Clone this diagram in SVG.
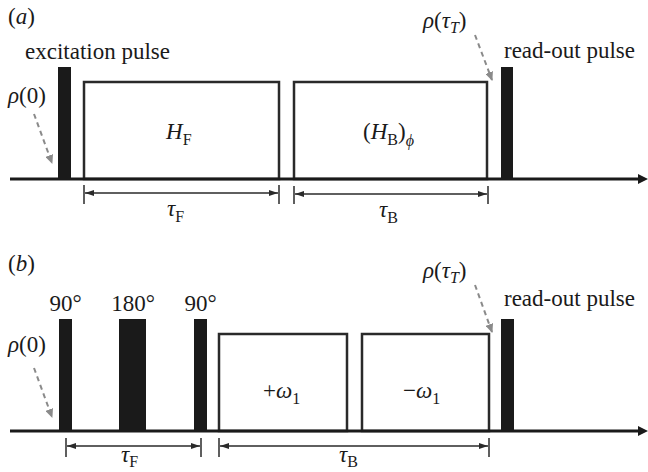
<svg xmlns="http://www.w3.org/2000/svg" width="648" height="472" viewBox="0 0 648 472">
<defs>
<marker id="axisArrow" markerWidth="10" markerHeight="10" refX="0" refY="5" orient="auto" markerUnits="userSpaceOnUse">
<path d="M0,0 L10,5 L0,10 Z" fill="#1a1a1a"/>
</marker>
<marker id="dimEnd" markerWidth="9" markerHeight="6" refX="9" refY="3" orient="auto" markerUnits="userSpaceOnUse">
<path d="M0,0 L9,3 L0,6 Z" fill="#2a2a2a"/>
</marker>
<marker id="dimStart" markerWidth="9" markerHeight="6" refX="0" refY="3" orient="auto" markerUnits="userSpaceOnUse">
<path d="M9,0 L0,3 L9,6 Z" fill="#2a2a2a"/>
</marker>
<marker id="dashArrow" markerWidth="9" markerHeight="8" refX="8" refY="4" orient="auto" markerUnits="userSpaceOnUse">
<path d="M0,0 L9,4 L0,8 Z" fill="#8a8a8a"/>
</marker>
</defs>
<style>
text{font-family:'Liberation Serif','Times New Roman','DejaVu Serif',serif;font-size:23px;fill:#1a1a1a}
.i{font-style:italic}
.sub{font-size:16px}
.axis{stroke:#1a1a1a;stroke-width:3;fill:none}
.box{stroke:#2a2a2a;stroke-width:2.5;fill:none}
.pulse{fill:#1a1a1a}
.dim{stroke:#2a2a2a;stroke-width:1.3;fill:none}
.tick{stroke:#2a2a2a;stroke-width:1.5}
.dash{stroke:#8a8a8a;stroke-width:2;stroke-dasharray:5 4;fill:none}
</style>

<!-- Panel (a) -->
<g id="panel-a-label"><text x="8" y="24" font-family="Liberation Serif, serif">(<tspan class="i">a</tspan>)</text></g>
<g id="a-excitation-pulse">
<rect class="pulse" x="58" y="67" width="13" height="112"/>
<text x="25" y="59" font-family="Liberation Serif, serif">excitation pulse</text>
</g>
<g id="a-rho0"><text x="8" y="103" font-family="Liberation Serif, serif"><tspan class="i">ρ</tspan>(0)</text></g>
<g id="a-HF">
<rect class="box" x="84" y="82" width="195" height="97"/>
<text x="166" y="139" font-family="Liberation Serif, serif"><tspan class="i">H</tspan><tspan class="sub" dy="6">F</tspan></text>
</g>
<g id="a-HB">
<rect class="box" x="294" y="82" width="193" height="97"/>
<text x="363" y="139" font-family="Liberation Serif, serif">(<tspan class="i">H</tspan><tspan class="sub" dy="6">B</tspan><tspan dy="-6">)</tspan><tspan class="sub i" dy="7">ϕ</tspan></text>
</g>
<g id="a-readout">
<rect class="pulse" x="501" y="67" width="12" height="112"/>
<text x="504" y="58" font-family="Liberation Serif, serif">read-out pulse</text>
</g>
<g id="a-rhoT"><text x="423" y="28" font-family="Liberation Serif, serif"><tspan class="i">ρ</tspan>(<tspan class="i">τ</tspan><tspan class="sub i" dy="5">T</tspan><tspan dy="-5">)</tspan></text></g>
<g id="a-tauF-label"><text x="167" y="216" font-family="Liberation Serif, serif"><tspan class="i">τ</tspan><tspan class="sub" dy="6">F</tspan></text></g>
<g id="a-tauB-label"><text x="379" y="217" font-family="Liberation Serif, serif"><tspan class="i">τ</tspan><tspan class="sub" dy="6">B</tspan></text></g>

<!-- Panel (b) -->
<g id="panel-b-label"><text x="8" y="271" font-family="Liberation Serif, serif">(<tspan class="i">b</tspan>)</text></g>
<g id="b-rho0"><text x="8" y="352" font-family="Liberation Serif, serif"><tspan class="i">ρ</tspan>(0)</text></g>
<g id="b-pulse90a">
<rect class="pulse" x="59" y="319" width="13" height="112"/>
<text x="65.5" y="311" text-anchor="middle" font-family="Liberation Serif, serif">90°</text>
</g>
<g id="b-pulse180">
<rect class="pulse" x="119" y="319" width="27" height="112"/>
<text x="133" y="311" text-anchor="middle" font-family="Liberation Serif, serif">180°</text>
</g>
<g id="b-pulse90b">
<rect class="pulse" x="194" y="319" width="13" height="112"/>
<text x="200.5" y="311" text-anchor="middle" font-family="Liberation Serif, serif">90°</text>
</g>
<g id="b-plus-omega">
<rect class="box" x="219" y="334" width="128" height="97"/>
<text x="263" y="398" font-family="Liberation Serif, serif">+<tspan class="i">ω</tspan><tspan class="sub" dy="6">1</tspan></text>
</g>
<g id="b-minus-omega">
<rect class="box" x="362" y="334" width="127" height="97"/>
<text x="403" y="398" font-family="Liberation Serif, serif">−<tspan class="i">ω</tspan><tspan class="sub" dy="6">1</tspan></text>
</g>
<g id="b-readout">
<rect class="pulse" x="501" y="319" width="13" height="112"/>
<text x="504" y="306" font-family="Liberation Serif, serif">read-out pulse</text>
</g>
<g id="b-rhoT"><text x="423" y="278" font-family="Liberation Serif, serif"><tspan class="i">ρ</tspan>(<tspan class="i">τ</tspan><tspan class="sub i" dy="5">T</tspan><tspan dy="-5">)</tspan></text></g>
<g id="b-tauF-label"><text x="121" y="462" font-family="Liberation Serif, serif"><tspan class="i">τ</tspan><tspan class="sub" dy="5">F</tspan></text></g>
<g id="b-tauB-label"><text x="339" y="462" font-family="Liberation Serif, serif"><tspan class="i">τ</tspan><tspan class="sub" dy="5">B</tspan></text></g>

<!-- Connectors -->
<g id="connectors">
<line class="axis" x1="10" y1="179" x2="638" y2="179" marker-end="url(#axisArrow)"/>
<line class="axis" x1="10" y1="431" x2="638" y2="431" marker-end="url(#axisArrow)"/>
<line class="dash" x1="34" y1="114" x2="52" y2="163" marker-end="url(#dashArrow)"/>
<line class="dash" x1="475" y1="35" x2="492" y2="80" marker-end="url(#dashArrow)"/>
<line class="dash" x1="34" y1="368" x2="52" y2="417" marker-end="url(#dashArrow)"/>
<line class="dash" x1="475" y1="285" x2="492" y2="332" marker-end="url(#dashArrow)"/>
<line class="tick" x1="84" y1="185" x2="84" y2="204"/>
<line class="tick" x1="279" y1="185" x2="279" y2="204"/>
<line class="dim" x1="85" y1="193" x2="278" y2="193" marker-start="url(#dimStart)" marker-end="url(#dimEnd)"/>
<line class="tick" x1="294" y1="186" x2="294" y2="204"/>
<line class="tick" x1="488" y1="186" x2="488" y2="204"/>
<line class="dim" x1="295" y1="194" x2="487" y2="194" marker-start="url(#dimStart)" marker-end="url(#dimEnd)"/>
<line class="tick" x1="66" y1="438" x2="66" y2="457"/>
<line class="tick" x1="201" y1="438" x2="201" y2="457"/>
<line class="dim" x1="67" y1="446" x2="200" y2="446" marker-start="url(#dimStart)" marker-end="url(#dimEnd)"/>
<line class="tick" x1="219" y1="438" x2="219" y2="457"/>
<line class="tick" x1="489" y1="438" x2="489" y2="457"/>
<line class="dim" x1="220" y1="446" x2="488" y2="446" marker-start="url(#dimStart)" marker-end="url(#dimEnd)"/>
</g>
</svg>
